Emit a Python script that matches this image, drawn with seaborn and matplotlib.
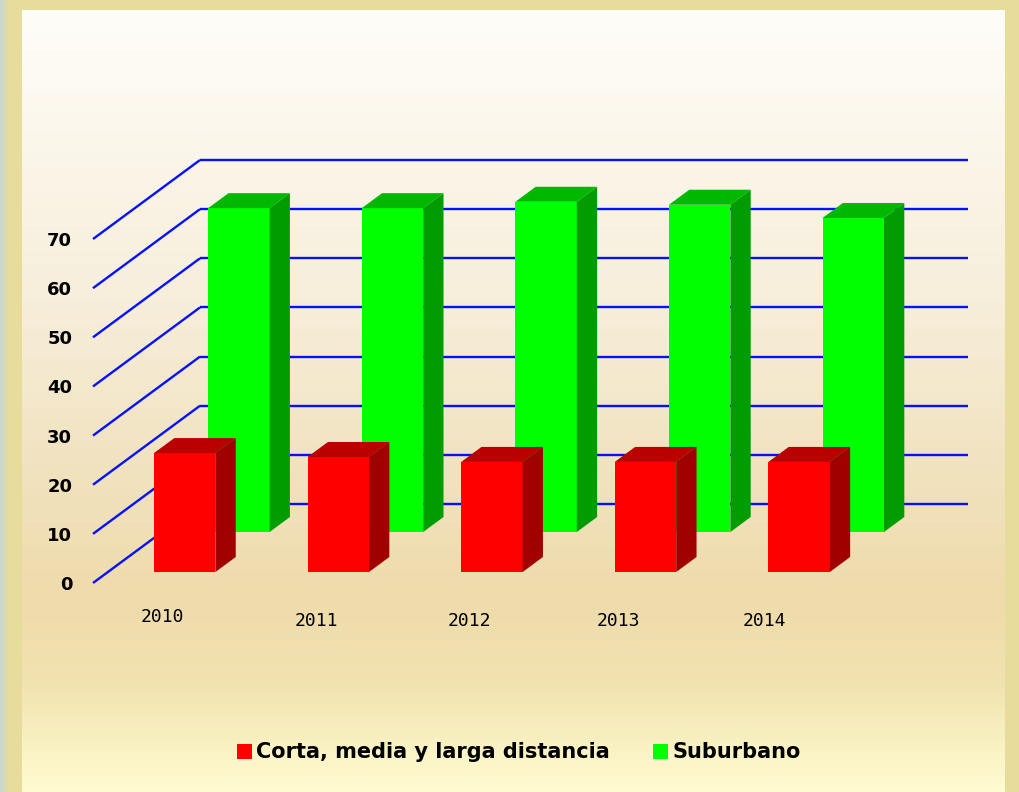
import numpy as np
import matplotlib
matplotlib.use("Agg")
import matplotlib.pyplot as plt
from matplotlib.colors import LinearSegmentedColormap
from matplotlib.lines import Line2D
import seaborn as sns

# ---------------- data ----------------
years = ["2010", "2011", "2012", "2013", "2014"]
corta = [24.2, 23.4, 22.4, 22.4, 22.4]
suburbano = [65.9, 65.9, 67.2, 66.6, 63.9]
series_names = ["Corta, media y larga distancia", "Suburbano"]
yticks = [0, 10, 20, 30, 40, 50, 60, 70]

sns.set_theme(style="white")
plt.rcParams["font.family"] = ["DejaVu Sans"]

W, H = 1020, 792
fig = plt.figure(figsize=(W / 100, H / 100), dpi=100)
fig.patch.set_facecolor("#e8dc9c")

# ---------------- background ----------------
bg = fig.add_axes([0, 0, 1, 1], zorder=0)
bg.set_xlim(0, W)
bg.set_ylim(H, 0)
bg.axis("off")
strip = np.linspace(0, 1, 50).reshape(1, -1)
cm_strip = LinearSegmentedColormap.from_list("s", ["#c8d6d4", "#e8dc9c"])
bg.imshow(strip, cmap=cm_strip, extent=[0, 9, H, 0], aspect="auto")
panel_cm = LinearSegmentedColormap.from_list(
    "p",
    [(0.0, "#fefdf8"), (0.18, "#fbf6ea"), (0.37, "#f7eedb"), (0.56, "#f2e4c3"),
     (0.75, "#efdbab"), (0.86, "#f1e2b0"), (1.0, "#fffcd0")],
)
grad = np.linspace(0, 1, 256).reshape(-1, 1)
bg.imshow(grad, cmap=panel_cm, extent=[22, 1005, H, 10], aspect="auto")

# ---------------- main axes ----------------
PX = 153.6   # pixels per category
PY = 4.914   # pixels per value unit
x0_px, y0_px = 93, 583
ymax = 95
ax = fig.add_axes([x0_px / W, (H - y0_px) / H, 5 * PX / W, ymax * PY / H], zorder=1)
ax.patch.set_alpha(0)

DX = 107 / PX
DY = 79 / PY
BW = 0.40
thick = 15 / 79
grid_c = "#0510ff"

n = len(years)
for v in yticks:
    ax.plot([-0.5 + DX, n - 0.5 + DX], [v + DY, v + DY], color=grid_c, lw=1.7,
            zorder=1, clip_on=False, solid_capstyle="butt")
    ax.plot([-0.5, -0.5 + DX], [v, v + DY], color=grid_c, lw=1.7,
            zorder=1, clip_on=False, solid_capstyle="butt")


def draw_row(values, front, color, top_c, side_c, z):
    x = np.arange(len(values))
    ox, oy = front * DX, front * DY
    dx, dy = thick * DX, thick * DY
    sns.barplot(x=x + ox, y=values, native_scale=True, orient="x", bottom=oy,
                width=BW, color=color, saturation=1, errorbar=None,
                linewidth=0, edgecolor="none", ax=ax, zorder=z, clip_on=False)
    for xi, v in zip(x, values):
        xl = xi + ox - BW / 2
        xr = xi + ox + BW / 2
        b, t = oy, oy + v
        ax.fill([xr, xr + dx, xr + dx, xr], [b, b + dy, t + dy, t],
                color=side_c, lw=0, zorder=z, clip_on=False)
        ax.fill([xl, xr, xr + dx, xl + dx], [t, t, t + dy, t + dy],
                color=top_c, lw=0, zorder=z, clip_on=False)


draw_row(suburbano, 51 / 79, "#00ff00", "#00b800", "#009c00", 3)
draw_row(corta, 11 / 79, "#ff0000", "#bb0000", "#a00000", 4)

ax.set_xlim(-0.5, n - 0.5)
ax.set_ylim(0, ymax)
ax.set_xlabel("")
ax.set_ylabel("")
ax.grid(False)
for s in ax.spines.values():
    s.set_visible(False)
ax.set_xticks([])
ax.set_yticks(yticks)
ax.set_yticklabels([str(t) for t in yticks], fontweight="bold", fontsize=13,
                   color="#000000")
ax.tick_params(axis="y", length=0, pad=15)

# year labels
label_px_x = [162.5, 316.5, 469, 618.5, 764.5]
label_px_y = [617, 621.5, 621.5, 621.5, 621.5]
for yr, px, py in zip(years, label_px_x, label_px_y):
    ax.text((px - x0_px) / PX - 0.5, (y0_px - py) / PY, yr, ha="center",
            va="center", fontsize=13, family="DejaVu Sans Mono", color="#000000",
            clip_on=False)

# legend
handles = [Line2D([0], [0], marker="s", ls="none", markersize=10.8, mew=0, color="#ff0000"),
           Line2D([0], [0], marker="s", ls="none", markersize=10.8, mew=0, color="#00ff00")]
leg = fig.legend(handles, series_names, loc="center",
                 bbox_to_anchor=(517 / W, (H - 752) / H),
                 ncol=2, frameon=False, prop=dict(weight="bold", size=15),
                 handletextpad=0.1, columnspacing=1.9, handlelength=1.0)
for t in leg.get_texts():
    t.set_color("#000000")

fig.savefig("out.png", dpi=100)
